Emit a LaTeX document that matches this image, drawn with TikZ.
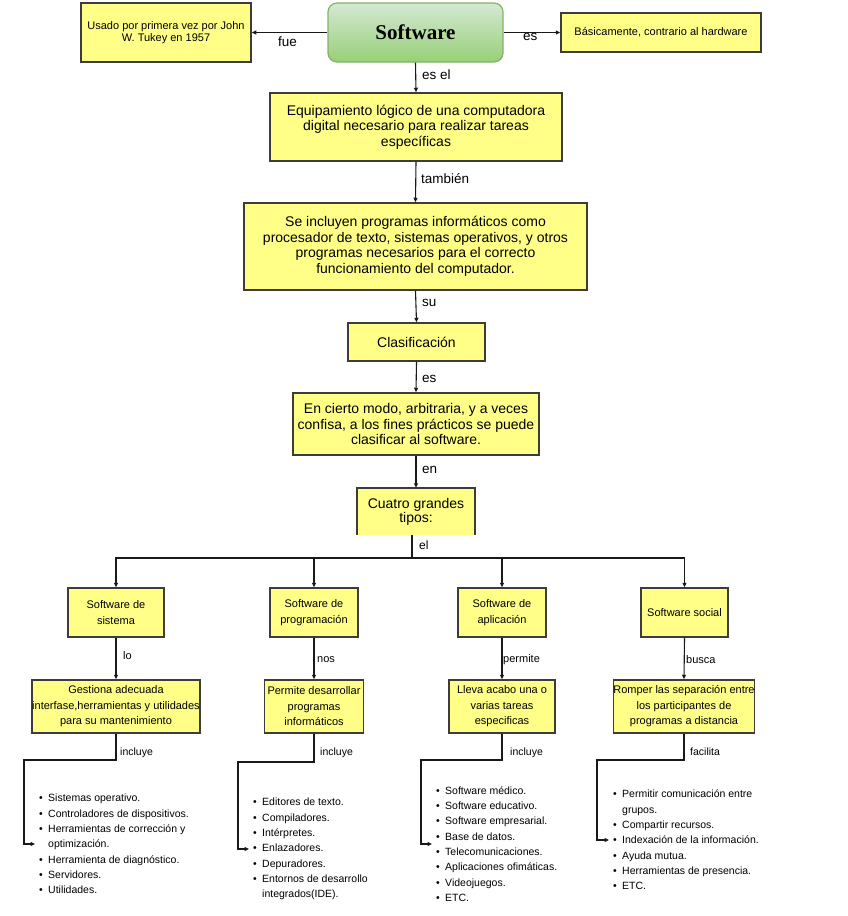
\documentclass[tikz,border=0pt]{standalone}
\usepackage{fontspec}
\setmainfont{Liberation Sans}
\newfontfamily\titlefont{Liberation Serif}
\usetikzlibrary{arrows.meta}
\definecolor{boxyellow}{HTML}{FFFF88}
\definecolor{boxline}{HTML}{3C3C3C}
\definecolor{gtop}{HTML}{D5E8D4}
\definecolor{gbot}{HTML}{97D077}
\definecolor{gline}{HTML}{82B366}
\newcommand{\itm}[1]{\makebox[9pt][l]{\textbullet}#1}
\newcommand{\cnt}[1]{\hspace*{9pt}#1}
\begin{document}
\begin{tikzpicture}[x=1pt,y=-1pt,
  ybox/.style={draw=boxline, line width=1.5pt, fill=boxyellow, inner sep=0pt, align=center, text=black},
  bigtxt/.style={font=\fontsize{14}{15.5}\selectfont},
  midtxt/.style={font=\fontsize{11}{15.5}\selectfont},
  smtxt/.style={font=\fontsize{11}{12}\selectfont},
  conn/.style={draw=black!90, line width=1.1pt},
  arr/.style={conn, -{Triangle[length=4.5pt,width=4pt]}},
  lbl/.style={font=\fontsize{13.5}{16}\selectfont, inner sep=0pt, anchor=west},
  slbl/.style={font=\fontsize{10.5}{12}\selectfont, inner sep=0pt, anchor=west},
  lst/.style={font=\fontsize{10.5}{15.3}\selectfont, inner sep=0pt, anchor=west, align=left},
]
\useasboundingbox (0,0) rectangle (848,916);

% top row
\node[ybox, smtxt, minimum width=170pt, minimum height=59pt] (tukey) at (166,32.5) {Usado por primera vez por John\\W. Tukey en 1957};
\node[draw=gline, line width=1.2pt, rounded corners=9pt, top color=gtop, bottom color=gbot,
      minimum width=175pt, minimum height=59pt,
      font=\titlefont\bfseries\fontsize{21}{24}\selectfont] (soft) at (415.5,32.5) {Software};
\node[ybox, smtxt, minimum width=200pt, minimum height=39pt] (basic) at (661,32.5) {Básicamente, contrario al hardware};

% main chain
\node[ybox, bigtxt, minimum width=292pt, minimum height=68pt] (equip) at (416,127) {Equipamiento lógico de una computadora\\digital necesario para realizar tareas\\específicas};
\node[ybox, bigtxt, minimum width=343pt, minimum height=87pt] (seinc) at (415.5,246.5) {Se incluyen programas informáticos como\\procesador de texto, sistemas operativos, y otros\\programas necesarios para el correcto\\funcionamiento del computador.};
\node[ybox, bigtxt, minimum width=137pt, minimum height=38pt] (clas) at (416.5,342) {Clasificación};
\node[ybox, bigtxt, minimum width=246pt, minimum height=62pt] (cierto) at (416,424) {En cierto modo, arbitraria, y a veces\\confisa, a los fines prácticos se puede\\clasificar al software.};
\node[fill=boxyellow, inner sep=0pt, align=center, font=\fontsize{14}{14}\selectfont,
      minimum width=118pt, minimum height=47pt] (cuatro) at (416,511.5) {Cuatro grandes\\tipos:};
\draw[draw=boxline, line width=1.5pt] (cuatro.south west) -- (cuatro.north west) -- (cuatro.north east) -- (cuatro.south east);

% level 1
\node[ybox, midtxt, minimum width=96pt, minimum height=49pt] (ss) at (116,612.5) {Software de\\sistema};
\node[ybox, midtxt, minimum width=88pt, minimum height=49pt] (sp) at (314,612.5) {Software de\\programación};
\node[ybox, midtxt, minimum width=88pt, minimum height=49pt] (sa) at (502,612.5) {Software de\\aplicación};
\node[ybox, midtxt, minimum width=87pt, minimum height=49pt] (soc) at (684.5,612.5) {Software social};

% level 2
\node[ybox, midtxt, minimum width=166pt, minimum height=53pt] (gest) at (116,706.5) {Gestiona adecuada\\interfase,herramientas y utilidades\\para su mantenimiento};
\node[ybox, midtxt, minimum width=99pt, minimum height=53pt] (perm) at (314,706.5) {Permite desarrollar\\programas\\informáticos};
\node[ybox, midtxt, minimum width=106pt, minimum height=53pt] (lleva) at (502,706.5) {Lleva acabo una o\\varias tareas\\especificas};
\node[ybox, midtxt, minimum width=138pt, minimum height=53pt] (romper) at (684,706.5) {Romper las separación entre\\los participantes de\\programas a distancia};

% lists
\node[lst] (list1) at (39,844) {\itm{Sistemas operativo.}\\\itm{Controladores de dispositivos.}\\\itm{Herramientas de corrección y}\\\cnt{optimización.}\\\itm{Herramienta de diagnóstico.}\\\itm{Servidores.}\\\itm{Utilidades.}};
\node[lst] (list2) at (253,849) {\itm{Editores de texto.}\\\itm{Compiladores.}\\\itm{Intérpretes.}\\\itm{Enlazadores.}\\\itm{Depuradores.}\\\itm{Entornos de desarrollo}\\\cnt{integrados(IDE).}};
\node[lst] (list3) at (436,844) {\itm{Software médico.}\\\itm{Software educativo.}\\\itm{Software empresarial.}\\\itm{Base de datos.}\\\itm{Telecomunicaciones.}\\\itm{Aplicaciones ofimáticas.}\\\itm{Videojuegos.}\\\itm{ETC.}};
\node[lst] (list4) at (613,840) {\itm{Permitir comunicación entre}\\\cnt{grupos.}\\\itm{Compartir recursos.}\\\itm{Indexación de la información.}\\\itm{Ayuda mutua.}\\\itm{Herramientas de presencia.}\\\itm{ETC.}};

% connectors top
\draw[arr] (soft.west) -- (tukey.east);
\draw[arr] (soft.east) -- (basic.west);
\draw[arr] (soft.south) -- (equip.north);
\draw[arr] (equip.south) -- (seinc.north);
\draw[arr] (seinc.south) -- (clas.north);
\draw[arr] (clas.south) -- (cierto.north);
\draw[arr] (cierto.south) -- (cuatro.north);

\coordinate (hub) at (412,558);
\draw[conn] (cuatro.south -| hub) -- (hub);
\draw[arr] (hub) -| (ss.north);
\draw[arr] (hub) -| (sp.north);
\draw[arr] (hub) -| (sa.north);
\draw[arr] (hub) -| (soc.north);

\draw[arr] (ss.south) -- (gest.north);
\draw[arr] (sp.south) -- (perm.north);
\draw[arr] (sa.south) -- (lleva.north);
\draw[arr] (soc.south) -- (romper.north);

\coordinate (k1) at (24,760);
\coordinate (k2) at (238,762);
\coordinate (k3) at (421,760);
\coordinate (k4) at (597,760);
\draw[arr, shorten >=4pt] (gest.south) |- (k1) |- (list1.west);
\draw[arr, shorten >=4pt] (perm.south) |- (k2) |- (list2.west);
\draw[arr, shorten >=4pt] (lleva.south) |- (k3) |- (list3.west);
\draw[arr, shorten >=4pt] (romper.south) |- (k4) |- (list4.west);

% labels
\node[lbl] (lfue) at (278,42) {fue};
\node[lbl] (les) at (523,37) {es};
\node[lbl] (lesel) at (422,75) {es el};
\node[lbl] (ltam) at (421,179) {también};
\node[lbl] (lsu) at (422,303) {su};
\node[lbl] (les2) at (422,379) {es};
\node[lbl] (len) at (422,470) {en};
\node[slbl, font=\fontsize{12}{14}\selectfont] (lel) at (419,545) {el};
\node[slbl, font=\fontsize{11}{13}\selectfont] (llo) at (123,656) {lo};
\node[slbl, font=\fontsize{11}{13}\selectfont] (lnos) at (317,660) {nos};
\node[slbl, font=\fontsize{11}{13}\selectfont] (lperm) at (503,660) {permite};
\node[slbl, font=\fontsize{11}{13}\selectfont] (lbusca) at (686,660) {busca};
\node[slbl] (linc1) at (120,753) {incluye};
\node[slbl] (linc2) at (320,753) {incluye};
\node[slbl] (linc3) at (510,753) {incluye};
\node[slbl] (lfac) at (690,752) {facilita};
\end{tikzpicture}
\end{document}
